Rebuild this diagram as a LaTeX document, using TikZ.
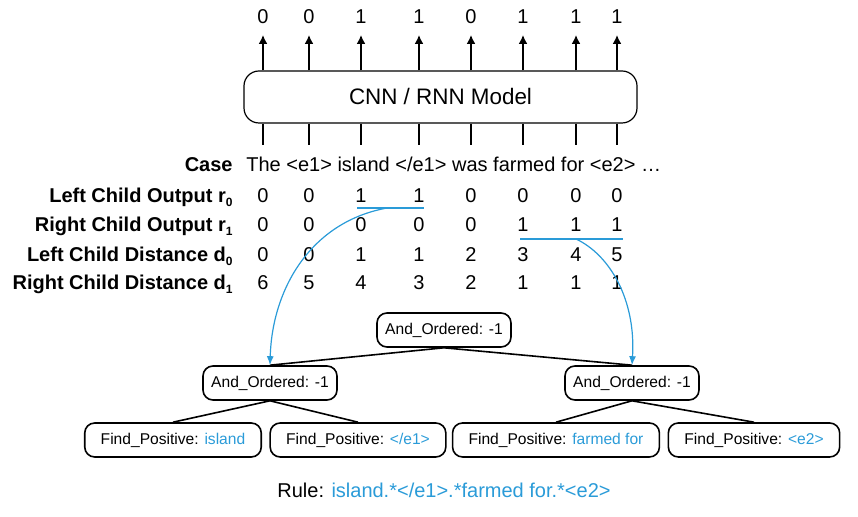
\documentclass[tikz,border=0pt]{standalone}
\usepackage{fontspec}
\setmainfont{Liberation Sans}
\usepackage{xcolor}
\usetikzlibrary{positioning,calc,arrows.meta}
\definecolor{ruleblue}{HTML}{2A9BD8}
\newcommand{\idx}[1]{\raisebox{-0.3ex}{\fontsize{6}{7}\selectfont #1}}

\begin{document}
\begin{tikzpicture}[x=0.5pt, y=-0.5pt,
    word/.style={anchor=base, font=\fontsize{10}{12}\selectfont, inner sep=1pt},
    rowlabel/.style={anchor=base east, font=\fontsize{10}{12}\selectfont\bfseries, inner sep=0pt},
    modelbox/.style={draw, line width=0.6pt, rounded corners=7.5pt, minimum width=196.5pt, minimum height=26pt, font=\fontsize{11.2}{13}\selectfont},
    treenode/.style={draw, line width=0.8pt, rounded corners=5pt, minimum height=17pt, inner xsep=8pt, font=\fontsize{7.8}{9}\selectfont},
    andnode/.style={treenode, minimum width=67pt, inner xsep=2pt},
    stem/.style={line width=0.8pt},
    arr/.style={line width=0.8pt, -{Latex[length=4.5pt, width=4.5pt]}},
    span/.style={ruleblue, line width=0.8pt},
    pick/.style={ruleblue, line width=0.6pt, -{Latex[length=4.5pt, width=3.5pt]}},
    edge/.style={line width=0.8pt}]
    \useasboundingbox (0,0) rectangle (858,517);

    % Token columns
    \foreach \x [count=\i] in {263,309,361,419,471,523,576,617}
        \coordinate (col\i) at (\x,0);

    % Model and its outputs
    \node [modelbox] (model) at (440.5,97) {CNN / RNN Model};
    \foreach \v [count=\i] in {0,0,1,1,0,1,1,1} {
        \node [word] (o\i) at (col\i |- 0,24) {\v};
        \draw [arr] (model.north -| o\i) -- ([yshift=-5.5pt]o\i.base);
    }

    % Input case
    \node [rowlabel] (lab-case) at (233,172) {Case};
    \node [word, anchor=base west, inner sep=0pt] (case) at (246,172) {The <e1> island </e1> was farmed for <e2> …};
    \foreach \i in {1,...,8}
        \draw [stem] (model.south -| col\i) -- ([yshift=6pt]case.north -| col\i);

    % Child outputs and distances
    \node [rowlabel] (lab-r0) at (233,203) {Left Child Output r\idx{0}};
    \node [rowlabel] (lab-r1) at (233,232) {Right Child Output r\idx{1}};
    \node [rowlabel] (lab-d0) at (233,262) {Left Child Distance d\idx{0}};
    \node [rowlabel] (lab-d1) at (233,290) {Right Child Distance d\idx{1}};
    \foreach \rname/\yb/\vals in {r0/203/{0,0,1,1,0,0,0,0}, r1/232/{0,0,0,0,0,1,1,1},
                                  d0/262/{0,0,1,1,2,3,4,5}, d1/290/{6,5,4,3,2,1,1,1}}
        \foreach \v [count=\i] in \vals
            \node [word] (\rname-\i) at (col\i |- 0,\yb) {\v};

    % Spans picked for the children
    \draw [span] ([xshift=-2pt,yshift=-2.5pt]r0-3.base) -- ([xshift=2.5pt,yshift=-2.5pt]r0-4.base);
    \draw [span] ([xshift=-1.5pt,yshift=-3.5pt]r1-6.base) -- ([xshift=3pt,yshift=-3.5pt]r1-8.base);
    \coordinate (lpick) at ($(r0-3.base)!0.45!(r0-4.base)+(0,5)$);
    \coordinate (rpick) at ($(r1-7.base)+(0,7)$);

    % Rule tree
    \node [andnode] (root) at (444,330) {And\_Ordered: -1};
    \node [andnode] (ao-l) at (270,383) {And\_Ordered: -1};
    \node [andnode] (ao-r) at (632,383) {And\_Ordered: -1};
    \node [treenode] (fp1) at (173,440) {Find\_Positive: \textcolor{ruleblue}{island}};
    \node [treenode] (fp2) at (358,440) {Find\_Positive: \textcolor{ruleblue}{</e1>}};
    \node [treenode] (fp3) at (556,440) {Find\_Positive: \textcolor{ruleblue}{farmed for}};
    \node [treenode] (fp4) at (754,440) {Find\_Positive: \textcolor{ruleblue}{<e2>}};
    \draw [edge] (root.south) -- (ao-l.north);
    \draw [edge] (root.south) -- (ao-r.north);
    \draw [edge] (ao-l.south) -- (fp1.north);
    \draw [edge] (ao-l.south) -- (fp2.north);
    \draw [edge] (ao-r.south) -- (fp3.north);
    \draw [edge] (ao-r.south) -- (fp4.north);

    % Curved arrows from spans to subtrees
    \draw [pick] (lpick) .. controls (310,222) and (272,290) .. (ao-l.north);
    \draw [pick] (rpick) .. controls (610,255) and (636,300) .. (ao-r.north);

    \node [font=\fontsize{10}{12}\selectfont] (rule) at (444,490) {Rule: \textcolor{ruleblue}{island.*</e1>.*farmed for.*<e2>}};
\end{tikzpicture}
\end{document}
